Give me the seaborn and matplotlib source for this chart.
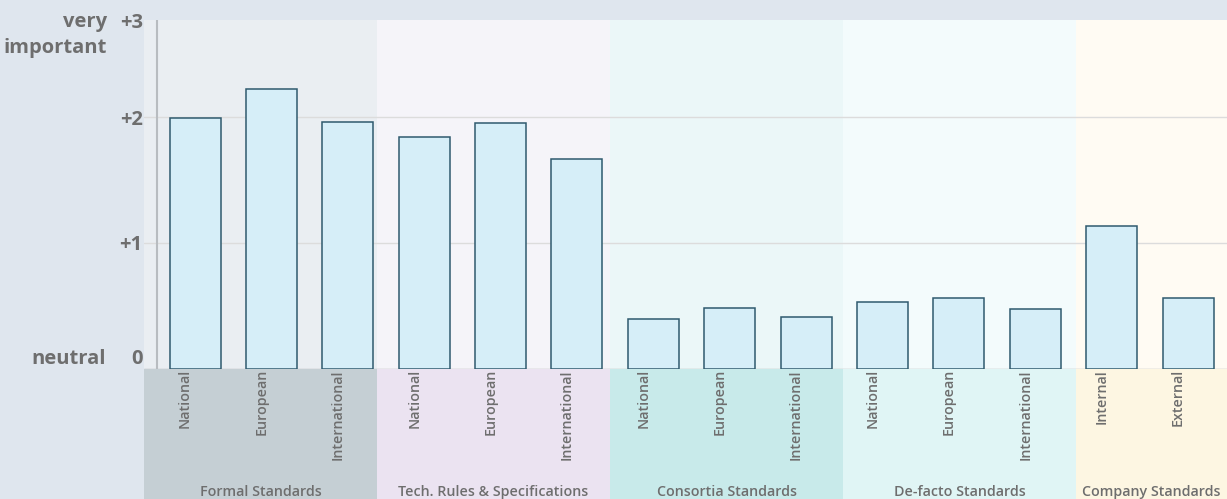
import numpy as np
import pandas as pd
import matplotlib
matplotlib.use('Agg')
import matplotlib.pyplot as plt
import matplotlib.transforms as mtransforms
from matplotlib.patches import Rectangle
import seaborn as sns

# ──────────────────────────────────────────────
# Data
# ──────────────────────────────────────────────
groups = ["Formal Standards", "Tech. Rules & Specifications", "Consortia Standards",
          "De-facto Standards", "Company Standards"]
group_items = [
    ["National", "European", "International"],
    ["National", "European", "International"],
    ["National", "European", "International"],
    ["National", "European", "International"],
    ["Internal", "External"],
]
importance = [
    1.99, 2.22, 1.96,
    1.84, 1.95, 1.67,
    0.39, 0.48, 0.41,
    0.53, 0.56, 0.47,
    1.13, 0.56,
]
ytick_values = [0, 1, 2]
ytick_labels = ["0", "+1", "+2"]

# colours of the group bands (upper = plot area, lower = label area)
band_upper = ["#eaeef2", "#f5f4f9", "#ebf7f8", "#f3fbfc", "#fffbf3"]
band_lower = ["#c5cfd4", "#ebe3f1", "#c8eaea", "#e0f5f5", "#fdf6e2"]

rows = []
for g, items in zip(groups, group_items):
    for it in items:
        rows.append({"group": g, "item": it, "key": f"{g}|{it}"})
df = pd.DataFrame(rows)
df["value"] = importance

# ──────────────────────────────────────────────
# Plot
# ──────────────────────────────────────────────
sns.set_theme(style="white")
plt.rcParams['font.family'] = ['Open Sans', 'DejaVu Sans']
text_color = "#6e6e6e"

fig = plt.figure(figsize=(12.27, 4.99), dpi=100, facecolor="#dfe6ee")
ax = fig.add_axes([144 / 1227, (499 - 368.5) / 499, (1227 - 144) / 1227, 349 / 499])
ax.set_facecolor("none")

sns.barplot(data=df, x="key", y="value", order=list(df["key"]), ax=ax,
            color="#d6eef8", edgecolor="#2f5a6e", linewidth=1.1, width=0.668,
            saturation=1, errorbar=None, zorder=3)

ax.set_xlim(-0.668, 13.51)
ax.set_ylim(0, 2.776)

# group bands
sizes = [len(i) for i in group_items]
bounds = -0.668 + 1.017 * np.concatenate([[0], np.cumsum(sizes)])
trans = mtransforms.blended_transform_factory(ax.transData, ax.transAxes)
for k, g in enumerate(groups):
    x0, x1 = bounds[k], min(bounds[k + 1], 13.51)
    ax.add_patch(Rectangle((x0, 0), x1 - x0, 1, transform=trans,
                           facecolor=band_upper[k], edgecolor="none", zorder=0))
    ax.add_patch(Rectangle((x0, -0.38), x1 - x0, 0.38, transform=trans,
                           facecolor=band_lower[k], edgecolor="none", zorder=0,
                           clip_on=False))
    ax.text((x0 + x1) / 2, -0.355, g, transform=trans, ha="center", va="center",
            fontsize=10.3, fontweight="semibold", color=text_color, clip_on=False)

# grid, axis line
for v in [1, 2]:
    ax.axhline(v, color="#dcdcdc", lw=1, zorder=1)
ax.axhline(0, color="#b5b5b5", lw=1, zorder=2)
ax.axvline(-0.5, color="#b8bcc0", lw=1.5, zorder=2)
for s in ax.spines.values():
    s.set_visible(False)

# x tick labels
ax.set_xticks(range(len(df)))
ax.set_xticklabels(df["item"], rotation=90, fontsize=10.3, fontweight="semibold",
                   color=text_color, va="top")
ax.tick_params(axis="x", length=0, pad=0.5)
offset = mtransforms.ScaledTranslation(-0.1, 0, fig.dpi_scale_trans)
for lab in ax.get_xticklabels():
    lab.set_transform(lab.get_transform() + offset)

# y tick labels
ax.set_yticks(ytick_values)
ax.set_yticklabels(ytick_labels, fontsize=14.5, fontweight="bold", color=text_color)
ax.tick_params(axis="y", length=0, pad=1)
ax.get_yticklabels()[0].set_va("bottom")
top_shift = mtransforms.ScaledTranslation(0, -0.03, fig.dpi_scale_trans)
ax.text(-0.001, 1.0, "+3", transform=ax.transAxes + top_shift, ha="right", va="center",
        fontsize=14.5, fontweight="bold", color=text_color)

ax.set_xlabel("")
ax.set_ylabel("")

# side annotations
fig.text(107 / 1227, 1 - 21.5 / 499, "very", ha="right", va="center",
         fontsize=14.5, fontweight="bold", color=text_color)
fig.text(107 / 1227, 1 - 47.5 / 499, "important", ha="right", va="center",
         fontsize=14.5, fontweight="bold", color=text_color)
fig.text(106 / 1227, 1 - 359 / 499, "neutral", ha="right", va="center",
         fontsize=14.5, fontweight="bold", color=text_color)

fig.savefig("out.png", dpi=100, facecolor=fig.get_facecolor())
